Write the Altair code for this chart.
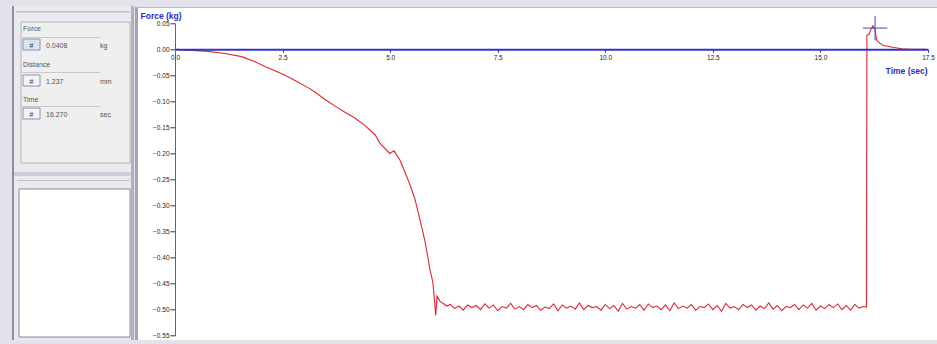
import altair as alt
import pandas as pd

# ---------------- data ----------------
curve_t = [0.0, 0.4, 0.77, 1.16, 1.55, 1.86, 2.09, 2.32, 2.56, 2.79, 3.10, 3.25, 3.48,
           3.72, 3.95, 4.18, 4.41, 4.65, 4.76, 4.99, 5.09, 5.23, 5.34, 5.46, 5.57,
           5.65, 5.73, 5.81, 5.88, 5.92, 5.99, 6.02, 6.06, 6.09, 6.16, 6.32]
curve_f = [0.0, -0.002, -0.004, -0.008, -0.014, -0.024, -0.033, -0.041, -0.050, -0.060,
           -0.074, -0.082, -0.096, -0.109, -0.121, -0.132, -0.146, -0.164, -0.180,
           -0.200, -0.195, -0.213, -0.235, -0.260, -0.286, -0.312, -0.340, -0.369,
           -0.401, -0.421, -0.446, -0.472, -0.511, -0.474, -0.484, -0.493]

plateau_t = [6.4, 6.5, 6.6, 6.7, 6.8, 6.9, 7.0, 7.1, 7.2, 7.3,
             7.4, 7.5, 7.6, 7.7, 7.8, 7.9, 8.0, 8.1, 8.2, 8.3,
             8.4, 8.5, 8.6, 8.7, 8.8, 8.9, 9.0, 9.1, 9.2, 9.3,
             9.4, 9.5, 9.6, 9.7, 9.8, 9.9, 10.0, 10.1, 10.2, 10.3,
             10.4, 10.5, 10.6, 10.7, 10.8, 10.9, 11.0, 11.1, 11.2, 11.3,
             11.4, 11.5, 11.6, 11.7, 11.8, 11.9, 12.0, 12.1, 12.2, 12.3,
             12.4, 12.5, 12.6, 12.7, 12.8, 12.9, 13.0, 13.1, 13.2, 13.3,
             13.4, 13.5, 13.6, 13.7, 13.8, 13.9, 14.0, 14.1, 14.2, 14.3,
             14.4, 14.5, 14.6, 14.7, 14.8, 14.9, 15.0, 15.1, 15.2, 15.3,
             15.4, 15.5, 15.6, 15.7, 15.8, 15.9, 16.0]
plateau_f = [-0.490, -0.498, -0.493, -0.501, -0.491, -0.496, -0.492, -0.500, -0.489, -0.497,
             -0.491, -0.502, -0.494, -0.497, -0.488, -0.499, -0.494, -0.500, -0.490, -0.496,
             -0.492, -0.501, -0.495, -0.498, -0.489, -0.502, -0.491, -0.497, -0.493, -0.499,
             -0.487, -0.500, -0.492, -0.496, -0.494, -0.501, -0.490, -0.498, -0.492, -0.503,
             -0.488, -0.499, -0.494, -0.497, -0.490, -0.501, -0.489, -0.496, -0.493, -0.500,
             -0.491, -0.502, -0.487, -0.498, -0.493, -0.497, -0.490, -0.501, -0.494, -0.496,
             -0.489, -0.500, -0.492, -0.503, -0.488, -0.497, -0.494, -0.500, -0.490, -0.496,
             -0.491, -0.501, -0.493, -0.498, -0.487, -0.499, -0.492, -0.502, -0.494, -0.496,
             -0.490, -0.500, -0.491, -0.497, -0.488, -0.501, -0.493, -0.498, -0.490, -0.496,
             -0.489, -0.500, -0.492, -0.501, -0.490, -0.497, -0.494]

release_t = [16.07, 16.08, 16.13, 16.17, 16.22, 16.27, 16.31, 16.38, 16.45, 16.56,
             16.68, 16.89, 17.1, 17.45]
release_f = [-0.495, 0.027, 0.029, 0.038, 0.045, 0.037, 0.017, 0.012, 0.008, 0.006,
             0.004, 0.001, 0.0, 0.0]

cursor_t = [16.27]
cursor_f = [0.0408]
readout_labels = ["Force", "Distance", "Time"]
readout_values = ["0.0408", "1.237", "16.270"]
readout_units = ["kg", "mm", "sec"]

x_ticks = [0.0, 2.5, 5.0, 7.5, 10.0, 12.5, 15.0, 17.5]
y_ticks = [0.05, 0.0, -0.05, -0.10, -0.15, -0.20, -0.25, -0.30, -0.35, -0.40, -0.45, -0.50, -0.55]

# ---------------- layout ----------------
FONT = "Liberation Sans"
OX, OY = 175, 23.3
W, H = 753, 312.4
XOFF = -(H - H * 0.05 / 0.60)

t_all = curve_t + plateau_t + release_t
f_all = curve_f + plateau_f + release_f
df = pd.DataFrame({"t": t_all, "f": f_all, "i": list(range(len(t_all)))})
cur = pd.DataFrame({"t": cursor_t, "f": cursor_f})
one = pd.DataFrame({"k": [0]})

xaxis = alt.Axis(values=x_ticks, format=".1f", orient="bottom", offset=XOFF,
                 domainColor="#3434c4", domainWidth=2, tickColor="#3434c4", tickSize=3,
                 labelFont=FONT, labelFontSize=6.5, labelColor="#222222", labelPadding=2,
                 labelOverlap=False, labelFlush=False, grid=False, zindex=1,
                 title="Time (sec)", titleFont=FONT, titleFontSize=8.5, titleColor="#2b2bd0",
                 titleFontWeight="bold", titleAlign="right", titleBaseline="alphabetic",
                 titleX=752, titleY=24)
yaxis = alt.Axis(values=y_ticks, format=".2f", domainColor="#5555d5", domainWidth=1,
                 tickColor="#333344", tickSize=5, labelFont=FONT, labelFontSize=6.5,
                 labelColor="#222222", labelPadding=1, labelOverlap=False, grid=False,
                 zindex=1, title="Force (kg)", titleFont=FONT, titleFontSize=8.5,
                 titleColor="#2b2bd0", titleFontWeight="bold", titleAngle=0,
                 titleAlign="left", titleBaseline="alphabetic", titleX=-35, titleY=-5)

xenc = alt.X("t:Q", scale=alt.Scale(domain=[0, 17.5], nice=False, zero=False), axis=xaxis)
yenc = alt.Y("f:Q", scale=alt.Scale(domain=[-0.55, 0.05], nice=False, zero=False), axis=yaxis)


def box(x0, y0, x1, y1, fill, stroke=None, sw=1):
    kw = dict(fill=fill)
    if stroke:
        kw.update(stroke=stroke, strokeWidth=sw)
    return alt.Chart(one).mark_rect(**kw).encode(
        x=alt.value(x0 - OX), x2=alt.value(x1 - OX),
        y=alt.value(y0 - OY), y2=alt.value(y1 - OY))


def txt(x, y, s, size=7, color="#555555", align="left", weight="normal"):
    return alt.Chart(one).mark_text(align=align, baseline="alphabetic", fontSize=size,
                                    color=color, font=FONT, fontWeight=weight).encode(
        x=alt.value(x - OX), y=alt.value(y - OY), text=alt.value(s))


layers = [
    # plot window
    box(137, 8, 937, 340, "#ffffff"),
    box(135, 7, 138, 340, "#a4a4b4"),
    box(137, 7, 937, 8, "#b8b8c8"),
    # left panel
    box(12, 6, 134, 340, "#e9e9ef"),
    box(12, 6, 14, 340, "#8e8e9e"),
    box(131, 6, 134, 340, "#b0b0c0"),
    box(16, 11, 130, 12.5, "#c4c4d0"),
    box(21, 22, 130, 163, "#efefef", "#b4b4b8"),
    box(14, 172, 131, 176, "#cfcfdb"),
    box(17, 180, 130, 181, "#c4c4d0"),
    box(19, 189, 130, 337, "#ffffff", "#8a8a9c"),
]

label_y = [31, 67, 102]
sep_y = [37, 72, 106]
btn_y = [39, 75, 108]
btn_fill = ["#d8e4f2", "#f4f4f6", "#f4f4f6"]
for k in range(3):
    layers.append(txt(23, label_y[k], readout_labels[k]))
    layers.append(box(22, sep_y[k], 100, sep_y[k] + 1, "#c8c8cc"))
    layers.append(box(23, btn_y[k], 40, btn_y[k] + 11, btn_fill[k], "#8096b4"))
    layers.append(txt(31.5, btn_y[k] + 8.5, "#", size=7, color="#333333", align="center"))
    layers.append(txt(46, btn_y[k] + 8.5, readout_values[k]))
    layers.append(txt(100, btn_y[k] + 9, readout_units[k]))

line = alt.Chart(df).mark_line(color="#e3262e", strokeWidth=1.1).encode(
    x=xenc, y=yenc, order="i:Q")
cross = alt.Chart(cur).mark_point(
    shape="M-1,0L1,0M0,-1L0,1", size=600, filled=False, color="#3a50c0",
    strokeWidth=1, opacity=1).encode(x=xenc, y=yenc)

layers += [line, cross]

chart = alt.layer(*layers).properties(
    width=W, height=H,
    padding={"left": OX, "top": OY, "right": 937 - OX - W, "bottom": 344 - OY - H},
    autosize=alt.AutoSizeParams(type="none"),
    background="#e2e2ea",
).configure_view(stroke=None)

chart.save("out.html", embed_options={"renderer": "svg", "actions": False})
